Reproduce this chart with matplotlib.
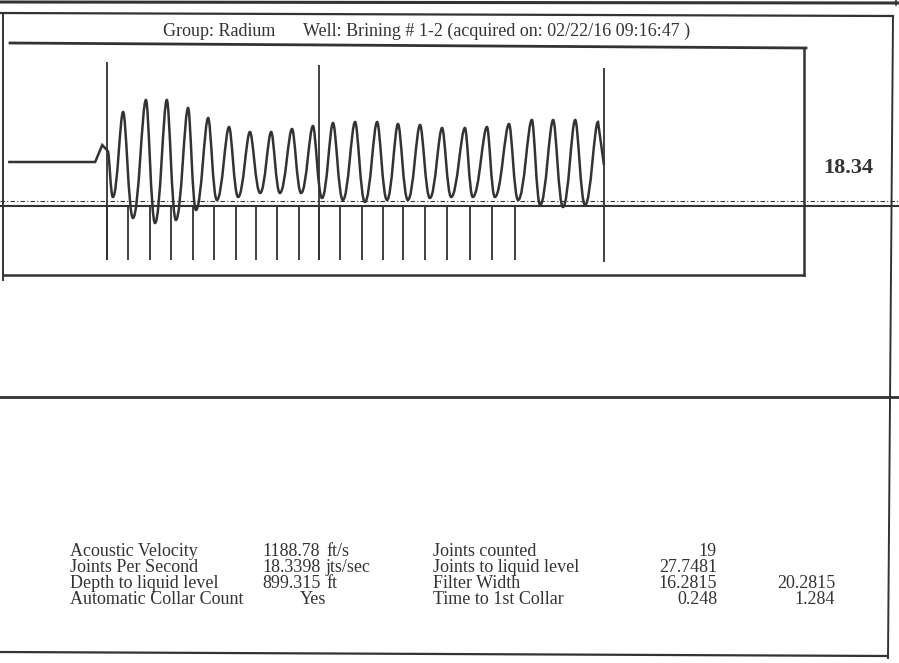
import numpy as np
import matplotlib.pyplot as plt
from matplotlib.path import Path
from matplotlib.patches import PathPatch

# acoustic trace (time in s, amplitude in screen units above the base line)
onset_t = [-0.003, 0.218, 0.236, 0.250]
onset_amp = [44, 44, 61, 55]

trough_t = [0.263, 0.314, 0.370, 0.423, 0.474, 0.527, 0.581, 0.637, 0.687, 0.741, 0.794, 0.847,
            0.903, 0.959, 1.012, 1.068, 1.122, 1.177, 1.233, 1.292, 1.348, 1.406, 1.462]
trough_amp = [9, -12, -17, -14, -4, 6, 9, 13, 13, 13, 8, 6, 4, 6, 6, 8, 9, 9, 9, 6, 1, -1, 1]

peak_t = [0.289, 0.347, 0.400, 0.454, 0.505, 0.558, 0.611, 0.665, 0.718, 0.771, 0.822, 0.878,
          0.934, 0.987, 1.043, 1.099, 1.157, 1.213, 1.269, 1.327, 1.381, 1.437, 1.495]
peak_amp = [94, 106, 106, 98, 88, 79, 74, 74, 77, 80, 83, 84, 84, 82, 81, 78, 78, 79, 82, 86, 86, 86, 84]

end_t = [1.510]
end_amp = [41]

# collar markers
collar_t = [0.248, 0.302, 0.356, 0.411, 0.466, 0.520, 0.575, 0.626, 0.679, 0.735, 0.786, 0.839,
            0.895, 0.948, 0.999, 1.055, 1.111, 1.170, 1.226, 1.284]
collar_low = -54
tall_t = [0.248, 0.786, 1.510]
tall_top = [144, 141, 138]
tall_low = [-54, -54, -56]

title_left = "Group: Radium"
title_right = "Well: Brining # 1-2 (acquired on: 02/22/16 09:16:47 )"
jps_label = "18.34"

label1 = ["Acoustic Velocity", "Joints Per Second", "Depth to liquid level", "Automatic Collar Count"]
value1 = ["1188.78", "18.3398", "899.315", "Yes"]
unit1 = ["ft/s", "jts/sec", "ft", ""]
label2 = ["Joints counted", "Joints to liquid level", "Filter Width", "Time to 1st Collar"]
value2 = ["19", "27.7481", "16.2815", "0.248"]
value3 = ["", "", "20.2815", "1.284"]

ink = "#333333"
serif = "Liberation Serif"
fs = 13

fig = plt.figure(figsize=(8.99, 6.63), dpi=100)

# page layer in pixel units for frame and text
bg = fig.add_axes([0, 0, 1, 1])
bg.set_xlim(0, 899)
bg.set_ylim(663, 0)
bg.axis("off")

bg.plot([0, 899], [2, 3], color=ink, lw=2.2)
bg.plot([896, 896], [0, 5], color=ink, lw=1.2)
bg.plot([0, 893], [13, 16], color=ink, lw=1.6)
bg.plot([3, 3], [13, 280], color=ink, lw=1.4)
bg.plot([893, 888], [16, 658], color=ink, lw=1.4)
bg.plot([0, 899], [397, 397], color=ink, lw=2.0)
bg.plot([0, 888], [652, 656], color=ink, lw=1.6)
bg.plot([10, 806], [43, 48], color=ink, lw=2.0)

bg.text(163, 31, title_left, family=serif, fontsize=fs, color=ink, va="center")
bg.text(303, 31, title_right, family=serif, fontsize=fs, color=ink, va="center")
bg.text(848, 168, jps_label, family=serif, fontsize=16, fontweight="bold", color=ink,
        ha="center", va="center")

rows_y = [551, 567, 583, 599]
value1_x = [262, 262, 262, 300]
for i, y in enumerate(rows_y):
    bg.text(70, y, label1[i], family=serif, fontsize=fs, color=ink, va="center")
    bg.text(value1_x[i], y, value1[i], family=serif, fontsize=fs, color=ink, va="center")
    bg.text(326, y, unit1[i], family=serif, fontsize=fs, color=ink, va="center")
    bg.text(433, y, label2[i], family=serif, fontsize=fs, color=ink, va="center")
    bg.text(717, y, value2[i], family=serif, fontsize=fs, color=ink, va="center", ha="right")
    bg.text(835, y, value3[i], family=serif, fontsize=fs, color=ink, va="center", ha="right")

# trace box
ax = fig.add_axes([4 / 899, 1 - 275 / 663, 800 / 899, 227 / 663])
ax.set_xlim(-0.0135, 2.018)
ax.set_ylim(-69, 158)
ax.set_xticks([])
ax.set_yticks([])
ax.patch.set_alpha(0)
ax.spines["left"].set_visible(False)
ax.spines["top"].set_visible(False)
for s in ["right", "bottom"]:
    ax.spines[s].set_color(ink)
    ax.spines[s].set_linewidth(1.8)

ax.axhline(0, xmin=-4 / 800, xmax=895 / 800, color=ink, lw=1.5, clip_on=False)
ax.axhline(5, xmin=-4 / 800, xmax=895 / 800, color=ink, lw=0.8, ls=(0, (4, 2, 1, 2)), clip_on=False)

# waveform: straight onset, then smooth swings between troughs and peaks
verts = list(zip(onset_t, onset_amp))
codes = [Path.MOVETO] + [Path.LINETO] * (len(onset_t) - 1)
swing = []
for tt, ta, pt, pa in zip(trough_t, trough_amp, peak_t, peak_amp):
    swing += [(tt, ta), (pt, pa)]
prev = verts[-1]
for j, p in enumerate(swing):
    dx = p[0] - prev[0]
    # leave troughs wide, reach peaks steeply
    k1, k2 = (0.45, 0.3) if j % 2 else (0.3, 0.45)
    verts += [(prev[0] + k1 * dx, prev[1]), (p[0] - k2 * dx, p[1]), p]
    codes += [Path.CURVE4] * 3
    prev = p
verts += list(zip(end_t, end_amp))
codes += [Path.LINETO] * len(end_t)
ax.add_patch(PathPatch(Path(verts, codes), fill=False, edgecolor=ink, lw=1.8))

ax.vlines(collar_t, collar_low, 0, color=ink, lw=1.3)
ax.vlines(tall_t, tall_low, tall_top, color=ink, lw=1.3)

fig.savefig("out.png", dpi=100)
